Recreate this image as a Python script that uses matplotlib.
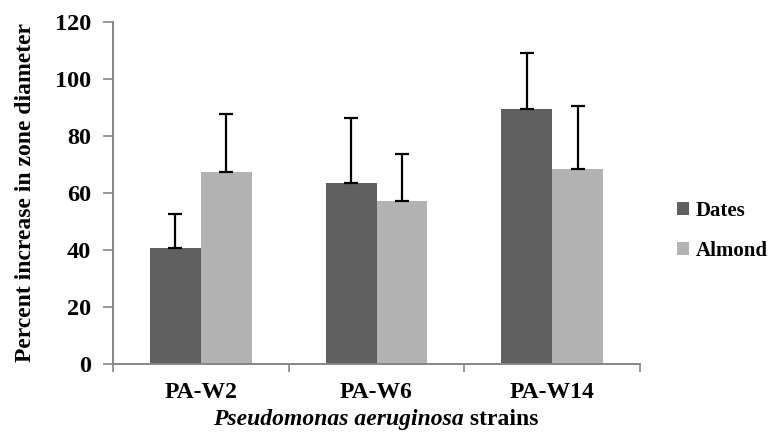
import matplotlib
matplotlib.use("Agg")
import matplotlib.pyplot as plt
import numpy as np
from matplotlib.offsetbox import TextArea, HPacker, AnchoredOffsetbox

categories = ["PA-W2", "PA-W6", "PA-W14"]
series_names = ["Dates", "Almond"]
dates = [40.8, 63.4, 89.5]
almond = [67.5, 57.1, 68.3]
dates_err = [11.7, 22.9, 19.5]
almond_err = [20.2, 16.5, 22.2]
yticks = [0, 20, 40, 60, 80, 100, 120]

plt.rcParams['font.family'] = ['Liberation Serif', 'DejaVu Serif']
fig = plt.figure(figsize=(7.76, 4.4), dpi=100)
ax = fig.add_axes([113/776, 1-364/440, (640-113)/776, (364-22)/440])

x = np.arange(len(categories))
w = 0.29
c_dark = "#606060"
c_light = "#b3b3b3"
ekw = dict(ecolor="black", elinewidth=1.6, capsize=5, capthick=1.6)
ax.bar(x - w/2, dates, w, color=c_dark, label=series_names[0],
       yerr=[np.zeros(len(dates)), dates_err], error_kw=ekw, zorder=2)
ax.bar(x + w/2, almond, w, color=c_light, label=series_names[1],
       yerr=[np.zeros(len(almond)), almond_err], error_kw=ekw, zorder=2)

ax.set_xlim(-0.5, len(categories) - 0.5)
ax.set_ylim(0, 120)
ax.set_yticks(yticks)
ax.set_yticklabels([str(t) for t in yticks], fontsize=17.5, fontweight='bold')
ax.set_xticks(x)
ax.set_xticklabels(categories, fontsize=17, fontweight='bold')
ax.set_xticks(np.arange(-0.5, len(categories)), minor=True)
ax.tick_params(axis='x', which='major', length=0, pad=13)
ax.tick_params(axis='x', which='minor', length=6, color="#868686", width=1.2)
ax.tick_params(axis='y', length=7, color="#868686", width=1.2, pad=9)

for s in ['top', 'right']:
    ax.spines[s].set_visible(False)
for s in ['left', 'bottom']:
    ax.spines[s].set_color("#868686")
    ax.spines[s].set_linewidth(1.4)

ax.set_ylabel("Percent increase in zone diameter", fontsize=17, fontweight='bold', labelpad=13)

# x label with italic species name
t1 = TextArea("Pseudomonas aeruginosa", textprops=dict(fontsize=17, fontweight='bold', style='italic'))
t2 = TextArea(" strains", textprops=dict(fontsize=17, fontweight='bold'))
box = HPacker(children=[t1, t2], align="baseline", pad=0, sep=0)
ab = AnchoredOffsetbox(loc='center', child=box, pad=0, frameon=False,
                       bbox_to_anchor=(376/776, 1-419/440), bbox_transform=fig.transFigure, borderpad=0)
fig.add_artist(ab)

leg = ax.legend(loc='center left', bbox_to_anchor=(1.05, 0.39), frameon=False,
                prop=dict(size=15, weight='bold'), handlelength=0.6, handleheight=0.6,
                handletextpad=0.3, labelspacing=0.95, borderpad=0)

fig.savefig("out.png", dpi=100)
